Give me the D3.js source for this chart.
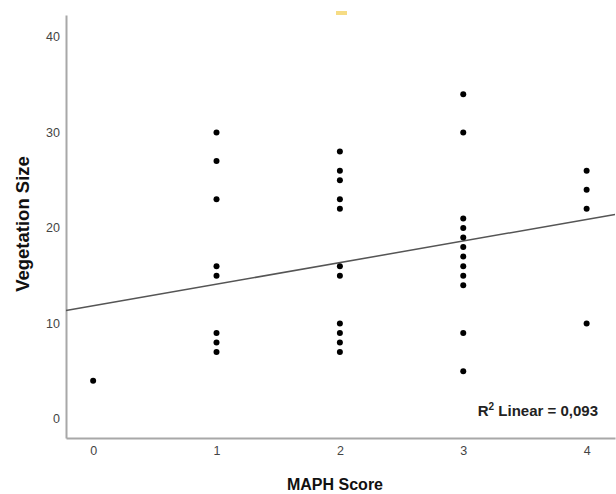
<!DOCTYPE html>
<html>
<head>
<meta charset="utf-8">
<script src="https://cdn.jsdelivr.net/npm/d3@7"></script>
<style>
  body { margin: 0; background: #fff; }
  svg { display: block; font-family: Arial, "Liberation Sans", sans-serif; }
</style>
</head>
<body>
<svg id="chart"></svg>
<script>
// MAPH score groups and vegetation sizes
const maphScores = [0, 1, 2, 3, 4];
const vegBySeries = [
    [4],
    [30, 27, 23, 16, 15, 9, 8, 7],
    [28, 26, 25, 23, 22, 16, 15, 10, 9, 8, 7],
    [34, 30, 21, 20, 19, 18, 17, 16, 15, 14, 9, 5],
    [26, 24, 22, 10]
];
const yTicks = [0, 10, 20, 30, 40];
// fit line as drawn (intercept, slope)
const fitLine = [11.85, 2.26];
const r2Label = "0,093";

const width = 616;
const height = 494;

let points = [];
maphScores.forEach((s, i) => {
    vegBySeries[i].forEach(v => points.push({ x: s, y: v }));
});

let svg = d3.select("#chart")
    .attr("width", width)
    .attr("height", height);

let scX = d3.scaleLinear().domain([-0.22, 4.23]).range([66, 615]);
let scY = d3.scaleLinear().domain([-2, 42.3]).range([438, 15]);

// small yellow mark at the top of the original image
svg.append("rect")
    .attr("x", 336).attr("y", 11)
    .attr("width", 11).attr("height", 4)
    .attr("fill", "#f6dc84");

// axes
let axisY = d3.axisLeft(scY).tickValues(yTicks).tickSize(0).tickPadding(6);
let gy = svg.append("g")
    .attr("transform", "translate(66,0)")
    .call(axisY);

let axisX = d3.axisBottom(scX).tickValues(maphScores).tickSize(0).tickPadding(8)
    .tickFormat(d3.format("d"));
let gx = svg.append("g")
    .attr("transform", "translate(0,438)")
    .call(axisX);

[gx, gy].forEach(g => {
    g.select(".domain").attr("stroke", "#a8a8a8").attr("stroke-width", 2);
    g.selectAll("text").attr("fill", "#444").style("font-size", "12.5px");
});

// regression line
let xd = scX.domain();
svg.append("line")
    .attr("x1", scX(xd[0]))
    .attr("y1", scY(fitLine[0] + fitLine[1] * xd[0]))
    .attr("x2", scX(xd[1]))
    .attr("y2", scY(fitLine[0] + fitLine[1] * xd[1]))
    .attr("stroke", "#555")
    .attr("stroke-width", 1.5);

// points
svg.selectAll(".dot")
    .data(points)
    .enter()
    .append("circle")
    .attr("class", "dot")
    .attr("cx", d => scX(d.x))
    .attr("cy", d => scY(d.y))
    .attr("r", 3)
    .attr("fill", "#000");

// axis titles
svg.append("text")
    .attr("x", 335).attr("y", 490)
    .attr("text-anchor", "middle")
    .style("font-size", "16px").style("font-weight", "bold")
    .attr("fill", "#111")
    .text("MAPH Score");

svg.append("text")
    .attr("transform", "translate(29,224) rotate(-90)")
    .attr("text-anchor", "middle")
    .style("font-size", "18.5px").style("font-weight", "bold")
    .attr("fill", "#111")
    .text("Vegetation Size");

// R² annotation
let r2 = svg.append("text")
    .attr("x", 598).attr("y", 416)
    .attr("text-anchor", "end")
    .style("font-size", "15px").style("font-weight", "bold")
    .attr("fill", "#222");
r2.append("tspan").text("R");
r2.append("tspan").attr("dy", -6).style("font-size", "10px").text("2");
r2.append("tspan").attr("dy", 6).text(" Linear = " + r2Label);
</script>
</body>
</html>
